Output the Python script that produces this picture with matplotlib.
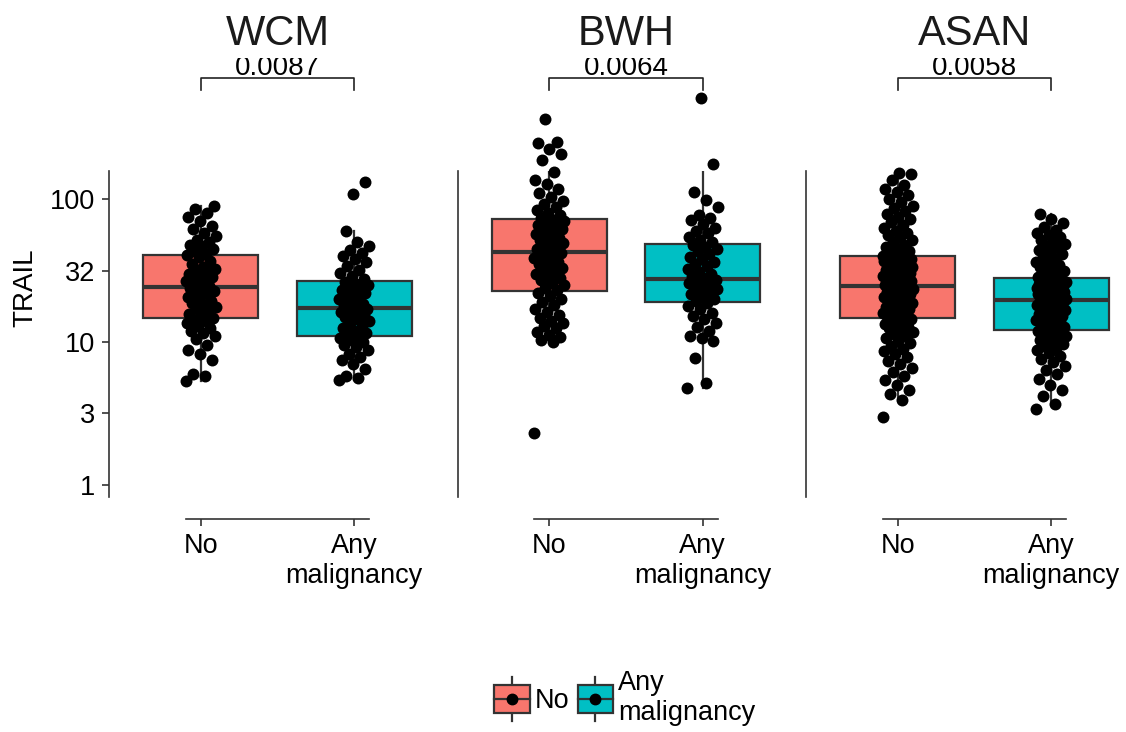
import numpy as np
import matplotlib
matplotlib.use("Agg")
import matplotlib.pyplot as plt
from matplotlib import cbook
from matplotlib.patches import Rectangle, Patch
from matplotlib.lines import Line2D
from matplotlib.legend_handler import HandlerPatch

plt.rcParams['font.family'] = ['Liberation Sans', 'DejaVu Sans']

sites = ["WCM", "BWH", "ASAN"]
groups = ["No", "Any\nmalignancy"]
p_values = ["0.0087", "0.0064", "0.0058"]
colors = ["#F8766D", "#00BFC4"]
y_ticks = [1, 10 ** 0.5, 10, 10 ** 1.5, 100]
y_tick_labels = ["1", "3", "10", "32", "100"]

# TRAIL values
wcm_no = [5.3, 5.8, 6.0, 7.5, 8.2, 8.8, 9.5, 10.5, 11.0, 11.5, 12.0, 12.5, 13.0, 13.5, 14.0, 14.3,
          14.8, 15.3, 15.8, 16.5, 17.0, 17.5, 18.0, 18.8, 19.5, 20.0, 20.8, 21.5, 22.0, 22.8, 23.5, 24.0,
          24.5, 25.5, 26.5, 27.0, 27.5, 28.5, 29.0, 30.0, 31.0, 32.0, 32.5, 33.5, 35.0, 37.0, 39.0, 40.5,
          41.5, 43.0, 45.0, 47.0, 48.0, 50.0, 52.0, 55.0, 58.0, 62.0, 65.0, 70.0, 75.0, 80.0, 85.0, 89.0]
wcm_any = [5.4, 5.6, 5.8, 6.5, 7.0, 7.5, 7.8, 8.3, 8.8, 9.2, 9.6, 10.0, 10.3, 10.6, 10.8,
           11.2, 11.6, 12.0, 12.5, 13.0, 13.5, 14.0, 14.5, 15.0, 15.5, 16.0, 16.3, 16.6, 16.8, 17.0,
           17.5, 18.0, 18.5, 19.2, 20.0, 20.5, 21.0, 22.0, 22.5, 23.0, 24.0, 24.5, 25.0, 25.5, 26.3,
           27.5, 29.0, 30.5, 32.0, 34.0, 36.0, 38.0, 40.0, 42.0, 44.0, 47.0, 50.0, 60.0, 131.0, 108.0]
bwh_no = [2.31, 10.0, 10.3, 10.8, 11.2, 11.8, 12.5, 13.0, 13.5, 14.0, 14.8, 15.5, 16.2, 17.0, 18.0, 19.0, 20.0, 21.0, 22.0,
          23.0, 24.0, 25.0, 26.0, 27.0, 28.0, 29.0, 30.0, 31.0, 32.0, 33.0, 34.0, 35.0, 36.5, 37.5, 38.5, 39.5, 40.5, 41.9,
          43.0, 44.5, 46.0, 47.5, 49.0, 50.5, 52.0, 53.5, 55.0, 57.0, 58.5, 60.0, 62.0, 64.0, 65.5, 67.0, 68.5, 70.0, 71.3,
          74.0, 77.0, 80.0, 84.0, 88.0, 92.0, 97.0, 103.0, 110.0, 118.0, 128.0, 136.0, 155.0, 188.0, 205.0, 225.0, 245.0, 250.0, 360.0]
bwh_any = [4.8, 5.2, 7.7, 10.2, 10.6, 11.0, 12.0, 12.8, 13.5, 14.5, 15.3, 16.0, 17.0, 17.8, 18.7,
           19.3, 20.0, 20.8, 21.5, 22.0, 22.8, 23.5, 24.0, 24.5, 25.0, 25.5, 26.0, 26.5, 27.0, 27.1,
           28.0, 29.0, 30.0, 31.0, 32.5, 34.0, 35.0, 36.5, 38.0, 39.5, 41.0, 43.0, 44.5, 46.0, 47.7,
           50.0, 52.0, 54.0, 57.5, 60.0, 63.0, 67.0, 71.0, 74.0, 77.0, 88.0, 98.6, 112.0, 176.0, 508.0]
asan_no = [2.99, 3.9, 4.3, 4.6, 5.0, 5.4, 5.8, 6.2, 6.6, 7.0, 7.4, 7.8, 8.2, 8.6, 9.0,
           9.4, 9.8, 10.2, 10.6, 11.0, 11.4, 11.8, 12.2, 12.5, 12.8, 13.1, 13.4, 13.8, 14.2, 14.5,
           14.8, 15.1, 15.4, 15.7, 16.0, 16.3, 16.6, 16.9, 17.2, 17.5, 17.9, 18.3, 18.7, 19.0, 19.4,
           19.8, 20.1, 20.5, 20.9, 21.2, 21.6, 22.0, 22.3, 22.6, 23.0, 23.3, 23.6, 24.0, 24.3, 24.6,
           25.0, 25.5, 26.0, 26.5, 27.0, 27.5, 28.0, 28.5, 29.0, 29.5, 30.0, 30.6, 31.2, 31.8, 32.4,
           33.0, 33.6, 34.2, 34.8, 35.4, 36.0, 36.6, 37.2, 37.8, 38.3, 38.8, 39.2, 39.5, 39.7, 39.9,
           41.0, 42.0, 43.5, 45.0, 46.5, 48.0, 50.0, 52.0, 54.0, 56.0, 58.0, 60.0, 63.0, 66.0, 69.0,
           72.0, 75.0, 78.0, 82.0, 86.0, 90.0, 95.0, 100.0, 106.0, 112.0, 118.0, 125.0, 135.0, 150.0, 152.0]
asan_any = [3.4, 3.7, 4.2, 4.6, 5.0, 5.5, 6.0, 6.4, 6.8, 7.2, 7.6, 8.0, 8.4, 8.8, 9.1, 9.4, 9.7, 10.0,
            10.3, 10.6, 10.9, 11.1, 11.3, 11.5, 11.7, 11.8, 11.9,
            12.2, 12.5, 12.8, 13.1, 13.4, 13.7, 14.0, 14.3, 14.6, 14.9, 15.2, 15.5, 15.8, 16.1, 16.4, 16.7,
            17.0, 17.3, 17.6, 17.9, 18.2, 18.5, 18.8, 19.0, 19.2, 19.3, 19.4,
            19.7, 20.0, 20.3, 20.6, 20.9, 21.2, 21.5, 21.8, 22.1, 22.4, 22.7, 23.0, 23.3, 23.6, 23.9, 24.2,
            24.5, 24.8, 25.1, 25.4, 25.7, 26.0, 26.3, 26.6, 26.9, 27.2, 27.6,
            28.5, 29.5, 30.5, 31.5, 32.5, 33.5, 34.5, 35.5, 36.5, 38.0, 39.5, 41.0, 42.5, 44.0, 45.5,
            47.0, 48.5, 50.0, 52.0, 54.0, 56.0, 58.0, 61.0, 64.0, 68.0, 73.0, 79.0]

trail = {"WCM": [wcm_no, wcm_any], "BWH": [bwh_no, bwh_any], "ASAN": [asan_no, asan_any]}

W, H = 1126, 732
fig = plt.figure(figsize=(W / 100, H / 100), dpi=100)
panel_left = [109, 457.5, 806]
panel_w = 337
ax_top, ax_bot = 171, 497
line_col = "#333333"


class BoxKey(HandlerPatch):
    def create_artists(self, legend, orig, xd, yd, width, height, fontsize, trans):
        x0, y0 = -xd, -yd
        cx, cy = x0 + width / 2, y0 + height / 2
        arts = [
            Line2D([cx, cx], [y0 - 0.3 * height, y0 + 1.3 * height], color=line_col, lw=1.6),
            Rectangle((x0, y0), width, height, facecolor=orig.get_facecolor(),
                      edgecolor=line_col, lw=1.6),
            Line2D([x0, x0 + width], [cy, cy], color=line_col, lw=1.6),
            Line2D([cx], [cy], marker="o", color="black", markersize=7.5, lw=0),
        ]
        for a in arts:
            a.set_transform(trans)
        return arts


for k, site in enumerate(sites):
    ax = fig.add_axes([panel_left[k] / W, 1 - ax_bot / H, panel_w / W, (ax_bot - ax_top) / H])
    ax.set_yscale("log")
    vals = trail[site]

    # box stats on the log scale, like scale_y_log10
    stats = cbook.boxplot_stats([np.log10(v) for v in vals], whis=1.5)
    for st in stats:
        for key in ("mean", "med", "q1", "q3", "whislo", "whishi", "cilo", "cihi"):
            st[key] = 10 ** st[key]
        st["fliers"] = []
    bp = ax.bxp(stats, positions=[1, 2], widths=0.75, patch_artist=True,
                showfliers=False, showcaps=False,
                boxprops=dict(edgecolor=line_col, linewidth=1.6),
                whiskerprops=dict(color=line_col, linewidth=1.6),
                medianprops=dict(color=line_col, linewidth=3))
    for patch, c in zip(bp["boxes"], colors):
        patch.set_facecolor(c)

    for g, v in enumerate(vals):
        n = len(v)
        offs = ((np.arange(n) * 0.618034) % 1 - 0.5) * 0.2
        ax.scatter(1 + g + offs, v, s=74, color="black", lw=0, zorder=3, clip_on=False)

    ax.set_xlim(0.4, 2.6)
    ax.set_ylim(0.824, 157)
    ax.yaxis.set_minor_locator(plt.NullLocator())
    ax.set_yticks(y_ticks, y_tick_labels)
    ax.set_xticks([1, 2], groups)
    for lab in ax.get_xticklabels():
        lab.set_linespacing(1.05)

    for s in ("top", "right"):
        ax.spines[s].set_visible(False)
    for s in ("left", "bottom"):
        ax.spines[s].set_color(line_col)
        ax.spines[s].set_linewidth(1.2)
    ax.spines["bottom"].set_position(("outward", 16))
    ax.spines["bottom"].set_bounds(0.9, 2.1)
    ax.tick_params(axis="both", labelsize=19.5, length=5, width=1.2, color=line_col, pad=5,
                   labelcolor="black")
    if k > 0:
        ax.tick_params(axis="y", left=False, labelleft=False)
    ax.patch.set_visible(False)

    # comparison bracket
    ax.plot([1, 1, 2, 2], [578, 702, 702, 578], color="#222222", lw=1.2, clip_on=False)
    ax.annotate(p_values[k], xy=(1.5, 702), xytext=(0, 2.5), textcoords="offset points",
                ha="center", va="baseline", fontsize=20, annotation_clip=False)

    cx = (panel_left[k] + panel_w / 2) / W
    fig.text(cx, 1 - 45 / H, site, ha="center", va="baseline", fontsize=30,
             color="#1a1a1a", zorder=6)

# strip background covers the top of the p-value labels
fig.add_artist(Rectangle((0, 1 - 58 / H), 1, 58 / H, transform=fig.transFigure,
                         facecolor="white", edgecolor="none", zorder=5))

fig.text(25 / W, 1 - 288 / H, "TRAIL", rotation=90, ha="center", va="center", fontsize=20)

handles = [Patch(facecolor=c) for c in colors]
fig.legend(handles, groups, loc="center", bbox_to_anchor=(625 / W, 1 - 698 / H),
           ncol=2, frameon=False, fontsize=19.5, handlelength=1.3, handleheight=1.2,
           handletextpad=0.2, columnspacing=0.3, borderpad=0,
           handler_map={Patch: BoxKey()})

fig.savefig("out.png", dpi=100)
